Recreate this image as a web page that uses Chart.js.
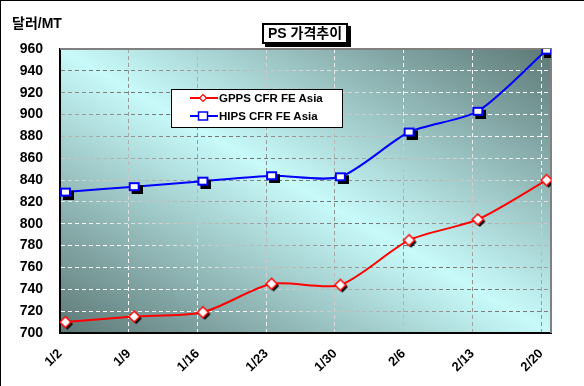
<!DOCTYPE html>
<html lang="ko">
<head>
    <meta charset="UTF-8">
    <title>PS 가격추이</title>
    <style>
        body { margin: 0; background: #fff; }
        #wrap { position: relative; width: 584px; height: 386px; font-family: "Liberation Sans", "Noto Sans CJK KR", sans-serif; }
        #chart { position: absolute; left: 0; top: 0; }
        #frame { position: absolute; left: 0; top: 0; width: 584px; height: 386px; border-left: 1px solid #000; border-top: 1px solid #000; box-sizing: border-box; pointer-events: none; }
        #title { position: absolute; left: 262px; top: 23px; width: 86px; height: 21px; box-sizing: border-box; border: 2px solid #000; background: #fff; box-shadow: 3px 3px 0 #000; font-weight: bold; font-size: 14px; line-height: 17px; text-align: center; }
        #unit { position: absolute; left: 12px; top: 12px; font-weight: bold; font-size: 14px; }
        #legend { position: absolute; left: 171px; top: 89px; width: 172px; height: 39px; box-sizing: border-box; border: 1px solid #000; background: #fff; }
        .item { position: absolute; left: 18px; height: 14px; font-weight: bold; font-size: 11.5px; line-height: 14px; white-space: nowrap; }
        .item svg { vertical-align: top; margin-right: 1px; }
    </style>
</head>
<body>
<div id="wrap">
    <canvas id="chart" width="584" height="386"></canvas>
    <div id="frame"></div>
    <div id="unit">달러/MT</div>
    <div id="title">PS 가격추이</div>
    <div id="legend"></div>
</div>

<script src="https://cdn.jsdelivr.net/npm/chart.js"></script>
<script>
// data
const dates = ['1/2', '1/9', '1/16', '1/23', '1/30', '2/6', '2/13', '2/20'];
const dayOffsets = [0, 7, 14, 21, 28, 35, 42, 49];   // days after 1/2
const gppsLabel = 'GPPS CFR FE Asia';
const hipsLabel = 'HIPS CFR FE Asia';
const gpps = [710, 715, 719, 745, 744, 785, 804, 840];
const hips = [829, 834, 839, 844, 843, 884, 903, 959];
const yTicks = [700, 720, 740, 760, 780, 800, 820, 840, 860, 880, 900, 920, 940, 960];

// markers with the little black drop shadow
function marker(shape, color) {
    const c = document.createElement('canvas');
    const ctx = c.getContext('2d');
    if (shape === 'square') {
        const w = 11, h = 9, off = 3;
        c.width = w + off * 2; c.height = h + off * 2;
        ctx.fillStyle = '#000';
        ctx.fillRect(off * 2, off * 2, w, h);
        ctx.fillStyle = color;
        ctx.fillRect(off, off, w, h);
        ctx.fillStyle = '#fff';
        ctx.fillRect(off + 2, off + 2, w - 4, h - 4);
    } else {
        const r = 5.5, off = 2;
        c.width = c.height = (r + off) * 2 + 2;
        const cx = c.width / 2;
        const dia = (x, y) => {
            ctx.beginPath();
            ctx.moveTo(x, y - r); ctx.lineTo(x + r, y); ctx.lineTo(x, y + r); ctx.lineTo(x - r, y);
            ctx.closePath();
        };
        dia(cx + off, cx + off); ctx.fillStyle = '#000'; ctx.fill();
        dia(cx, cx); ctx.fillStyle = '#fff'; ctx.fill();
        ctx.strokeStyle = color; ctx.lineWidth = 1.5; ctx.stroke();
    }
    return c;
}

// gradient whose bands run parallel to the top-left / bottom-right diagonal
function diagGradient(ctx, a, stops) {
    const w = a.right - a.left, h = a.bottom - a.top;
    const k = 2 / (1 / (w * w) + 1 / (h * h));
    const g = ctx.createLinearGradient(a.left, a.bottom, a.left + k / w, a.bottom - k / h);
    stops.forEach(s => g.addColorStop(s[0], s[1]));
    return g;
}

function gridColor(c, mid) {
    const a = c.chart.chartArea;
    if (!a) return '#fff';
    return diagGradient(c.chart.ctx, a, [[0, '#ffffff'], [0.2, '#ffffff'], [0.5, mid], [0.8, '#ffffff'], [1, '#ffffff']]);
}

const plotBack = {
    id: 'plotBack',
    beforeDraw(chart) {
        const a = chart.chartArea, ctx = chart.ctx;
        ctx.save();
        ctx.fillStyle = diagGradient(ctx, a, [[0, '#5c7876'], [0.5, '#c8fafa'], [1, '#5c7876']]);
        ctx.fillRect(a.left, a.top, a.right - a.left, a.bottom - a.top);
        ctx.restore();
    },
    beforeDatasetsDraw(chart) {
        const a = chart.chartArea, ctx = chart.ctx;
        ctx.save();
        ctx.strokeStyle = '#808080';
        ctx.lineWidth = 2;
        ctx.beginPath();
        ctx.moveTo(a.left, a.top); ctx.lineTo(a.right, a.top); ctx.lineTo(a.right, a.bottom);
        ctx.stroke();
        ctx.restore();
    }
};

const toPoints = vals => vals.map((v, i) => ({ x: dayOffsets[i], y: v }));

const chart = new Chart(document.getElementById('chart'), {
    type: 'line',
    data: {
        datasets: [{
            label: gppsLabel,
            data: toPoints(gpps),
            borderColor: '#ff0000',
            borderWidth: 2,
            pointStyle: marker('diamond', '#ff0000'),
            xAxisID: 'xData',
            tension: 0.25
        }, {
            label: hipsLabel,
            data: toPoints(hips),
            borderColor: '#0000ff',
            borderWidth: 2,
            pointStyle: marker('square', '#0000ff'),
            xAxisID: 'xData',
            tension: 0.25
        }]
    },
    options: {
        responsive: false,
        animation: false,
        layout: { autoPadding: false, padding: { left: 0, top: 49, right: 33, bottom: 0 } },
        plugins: { legend: { display: false }, tooltip: { enabled: false } },
        scales: {
            x: {
                type: 'linear',
                min: 0, max: 50,
                afterBuildTicks: s => { s.ticks = dayOffsets.map(v => ({ value: v })); },
                afterFit: s => { s.height = 53; },
                ticks: {
                    autoSkip: false, minRotation: 45, maxRotation: 45, padding: 13,
                    color: '#000', font: { family: 'Liberation Sans', weight: 'bold', size: 13 },
                    callback: v => dates[dayOffsets.indexOf(v)]
                },
                grid: { drawTicks: false, color: c => gridColor(c, '#8c8c8c'), lineWidth: 1 },
                border: { color: '#000', width: 2, dash: [4, 3] }
            },
            xData: { type: 'linear', display: false, min: -0.55, max: 49.45 },
            y: {
                min: 700, max: 960,
                afterBuildTicks: s => { s.ticks = yTicks.map(v => ({ value: v })); },
                afterFit: s => { s.width = 60; },
                ticks: { padding: 17, color: '#000', font: { family: 'Liberation Sans', weight: 'bold', size: 14 } },
                grid: { drawTicks: false, color: c => gridColor(c, '#707070'), lineWidth: 1 },
                border: { color: '#000', width: 2, dash: [4, 3] }
            }
        }
    },
    plugins: [plotBack]
});

// legend built from the datasets
const legendSym = {
    0: '<svg width="28" height="14"><line x1="0" y1="7" x2="28" y2="7" stroke="#ff0000" stroke-width="2"/><path d="M13 3.5 L16.5 7 L13 10.5 L9.5 7 Z" fill="#fff" stroke="#ff0000" stroke-width="1.2"/></svg>',
    1: '<svg width="28" height="14"><line x1="0" y1="7" x2="28" y2="7" stroke="#0000ff" stroke-width="2"/><rect x="8.5" y="3" width="9" height="8" fill="#fff" stroke="#0000ff" stroke-width="1.5"/></svg>'
};
const legend = document.getElementById('legend');
chart.data.datasets.forEach((ds, i) => {
    const row = document.createElement('div');
    row.className = 'item';
    row.style.top = (1 + i * 18) + 'px';
    row.innerHTML = legendSym[i] + ds.label;
    legend.appendChild(row);
});
</script>
</body>
</html>
